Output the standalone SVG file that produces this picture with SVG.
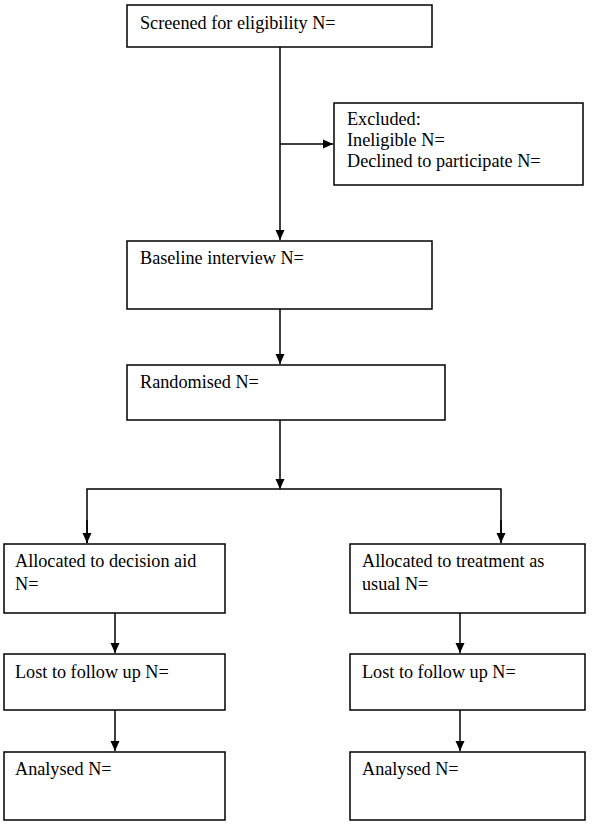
<svg xmlns="http://www.w3.org/2000/svg" width="600" height="825" viewBox="0 0 600 825">
<style>
.box{fill:#fff;stroke:#000;stroke-width:1.5}
.t{font-family:"Liberation Serif","Times New Roman",serif;font-size:18.2px;fill:#000}
.c{fill:none;stroke:#000;stroke-width:1.5}
</style>
<defs>
<marker id="ah" markerWidth="12" markerHeight="12" refX="10" refY="5" orient="auto" markerUnits="userSpaceOnUse">
<path d="M0,0.5 L10,5 L0,9.5 Z" fill="#000"/>
</marker>
</defs>
<rect width="600" height="825" fill="#fff"/>
<g id="connectors">
<line class="c" x1="280" y1="47" x2="280" y2="240" marker-end="url(#ah)"/>
<line class="c" x1="280" y1="144" x2="333" y2="144" marker-end="url(#ah)"/>
<line class="c" x1="280" y1="309" x2="280" y2="364" marker-end="url(#ah)"/>
<line class="c" x1="280" y1="420" x2="280" y2="489" marker-end="url(#ah)"/>
<polyline class="c" points="87,543 87,489 501,489 501,543"/>
<line class="c" x1="87" y1="520" x2="87" y2="543" marker-end="url(#ah)"/>
<line class="c" x1="501" y1="520" x2="501" y2="543" marker-end="url(#ah)"/>
<line class="c" x1="115" y1="613" x2="115" y2="653" marker-end="url(#ah)"/>
<line class="c" x1="460" y1="613" x2="460" y2="653" marker-end="url(#ah)"/>
<line class="c" x1="115" y1="710" x2="115" y2="751" marker-end="url(#ah)"/>
<line class="c" x1="460" y1="710" x2="460" y2="751" marker-end="url(#ah)"/>
</g>
<g id="screened">
<rect class="box" x="127" y="5" width="305" height="42"/>
<text class="t" x="140" y="29">Screened for eligibility N=</text>
</g>
<g id="excluded">
<rect class="box" x="334" y="103" width="249" height="82"/>
<text class="t" x="347" y="125">Excluded:</text>
<text class="t" x="347" y="146">Ineligible N=</text>
<text class="t" x="347" y="167">Declined to participate N=</text>
</g>
<g id="baseline">
<rect class="box" x="127" y="241" width="305" height="68"/>
<text class="t" x="140" y="264">Baseline interview N=</text>
</g>
<g id="randomised">
<rect class="box" x="127" y="365" width="318" height="55"/>
<text class="t" x="140" y="388">Randomised N=</text>
</g>
<g id="alloc-aid">
<rect class="box" x="4" y="544" width="221" height="69"/>
<text class="t" x="15" y="567">Allocated to decision aid</text>
<text class="t" x="15" y="590">N=</text>
</g>
<g id="alloc-tau">
<rect class="box" x="350" y="544" width="235" height="69"/>
<text class="t" x="362" y="567">Allocated to treatment as</text>
<text class="t" x="362" y="590">usual N=</text>
</g>
<g id="lost-aid">
<rect class="box" x="4" y="654" width="221" height="56"/>
<text class="t" x="15" y="678">Lost to follow up N=</text>
</g>
<g id="lost-tau">
<rect class="box" x="350" y="654" width="235" height="56"/>
<text class="t" x="362" y="678">Lost to follow up N=</text>
</g>
<g id="analysed-aid">
<rect class="box" x="4" y="752" width="221" height="68"/>
<text class="t" x="15" y="775">Analysed N=</text>
</g>
<g id="analysed-tau">
<rect class="box" x="350" y="752" width="235" height="68"/>
<text class="t" x="362" y="775">Analysed N=</text>
</g>
</svg>
